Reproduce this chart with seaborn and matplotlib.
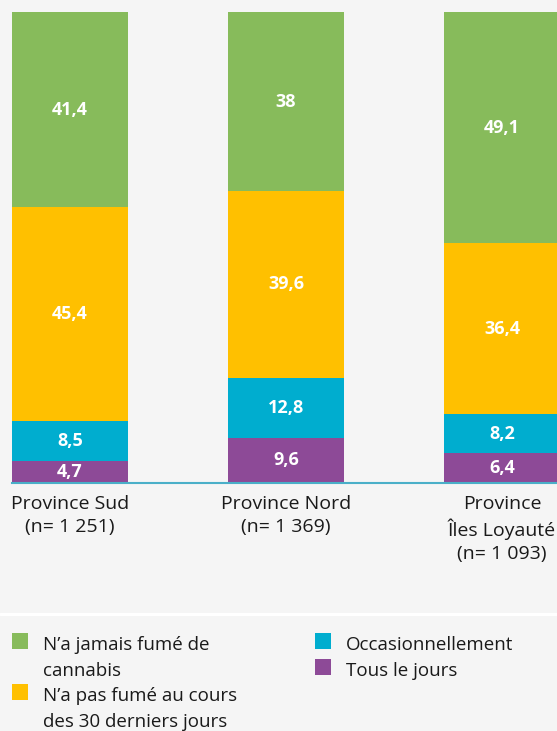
import numpy as np
import pandas as pd
import matplotlib.pyplot as plt
import seaborn as sns
from matplotlib.patches import Rectangle
from matplotlib.lines import Line2D

# data (percent, bottom -> top of each stack)
provinces = ['Province Sud\n(n= 1 251)', 'Province Nord\n(n= 1 369)',
             'Province\nÎles Loyauté\n(n= 1 093)']
tous_les_jours = [4.7, 9.6, 6.4]
occasionnel = [8.5, 12.8, 8.2]
pas_30_jours = [45.4, 39.6, 36.4]
jamais = [41.4, 38.0, 49.1]
series_names = ['Tous le jours', 'Occasionnellement',
                'N’a pas fumé au cours\ndes 30 derniers jours',
                'N’a jamais fumé de\ncannabis']

BG = '#F5F5F5'
COLORS = ['#8D4A97', '#00ADCF', '#FFC000', '#87BB5B']
AXIS = '#4AAFC8'
INK = '#1a1a1a'
W = 0.537

sns.set_style('white')
plt.rcParams['font.family'] = ['Open Sans', 'DejaVu Sans']

df = pd.DataFrame({'province': provinces, 's0': tous_les_jours, 's1': occasionnel,
                   's2': pas_30_jours, 's3': jamais})
vals = df[['s0', 's1', 's2', 's3']]
cum = vals.cumsum(axis=1)

fig = plt.figure(figsize=(5.57, 7.31), dpi=100, facecolor=BG)
ax = fig.add_axes([12 / 557, 1 - 483 / 731, 545 / 557, 471 / 731])
ax.set_facecolor(BG)

# stacked bars: draw cumulative layers from the top down
for i in range(3, -1, -1):
    sns.barplot(x=df['province'], y=cum.iloc[:, i], color=COLORS[i], width=W,
                saturation=1, ax=ax, linewidth=0)

# value labels
for j in range(len(df)):
    bottom = 0
    for i in range(4):
        v = vals.iloc[j, i]
        ax.text(j, bottom + v / 2, f'{v:g}'.replace('.', ','), ha='center', va='center',
                color='white', fontsize=13, fontweight='bold',
                family=['Liberation Sans Narrow', 'Open Sans', 'DejaVu Sans'])
        bottom += v

ax.set_xlim(-W / 2, -W / 2 + 545 / 216)
ax.set_ylim(0, 100.1)
ax.set_xlabel('')
ax.set_ylabel('')
ax.set_yticks([])
for s in ['top', 'left', 'right']:
    ax.spines[s].set_visible(False)
ax.spines['bottom'].set_color(AXIS)
ax.spines['bottom'].set_linewidth(1.5)
ax.tick_params(axis='x', length=0, pad=8.5, labelsize=14, labelcolor=INK)
for lbl in ax.get_xticklabels():
    lbl.set_linespacing(1.35)

# separator line above legend
fig.add_artist(Line2D([0, 1], [1 - 613.5 / 731] * 2, color='white', lw=2.2,
                      transform=fig.transFigure))

# legend: column 1 green, yellow; column 2 teal, purple
legend_cols = [[3, 2], [1, 0]]
col_x = [12, 315]
line_h = 25.7
for c, items in enumerate(legend_cols):
    line = 0
    for i in items:
        yb = 650 + line * line_h
        fig.add_artist(Rectangle((col_x[c] / 557, 1 - (yb - 1) / 731), 16 / 557, 16 / 731,
                                 color=COLORS[i], transform=fig.transFigure, lw=0))
        for k, txt in enumerate(series_names[i].split('\n')):
            fig.text((col_x[c] + 31) / 557, 1 - (yb + k * line_h) / 731, txt,
                     ha='left', va='baseline', fontsize=13.5, color=INK)
        line += len(series_names[i].split('\n'))

fig.savefig('out.png', dpi=100, facecolor=BG)
